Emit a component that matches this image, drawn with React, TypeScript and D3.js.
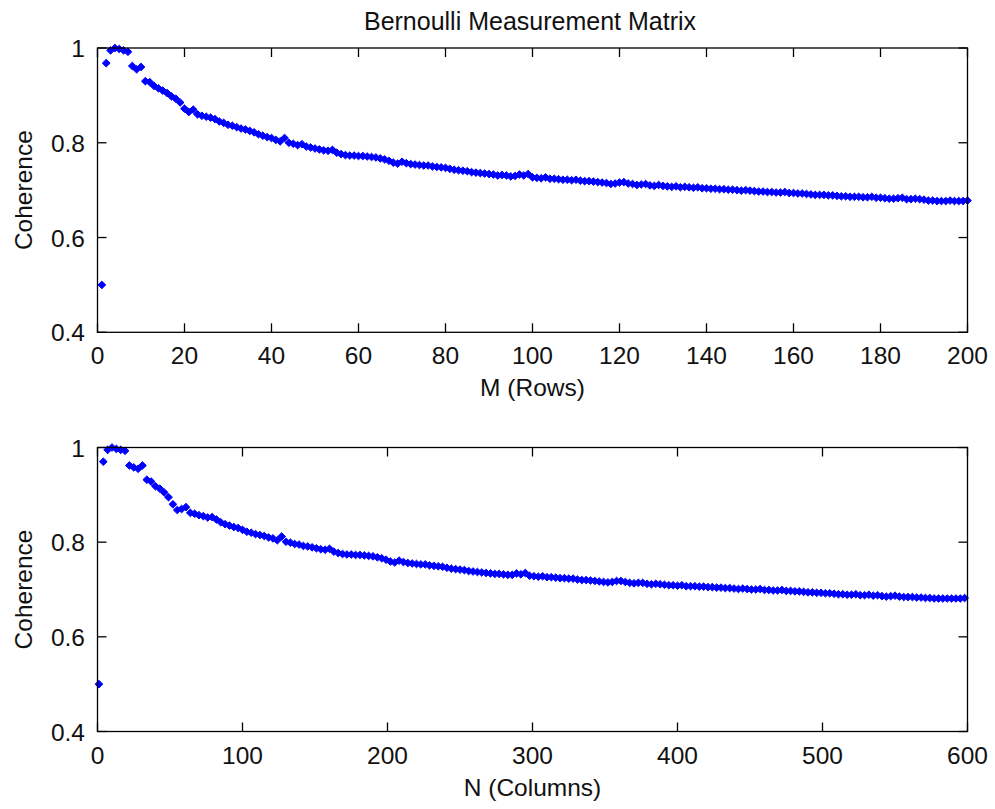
import React from "react";
import * as d3 from "d3";

const titleText = "Bernoulli Measurement Matrix";
const yLabel = "Coherence";
const topXLabel = "M (Rows)";
const bottomXLabel = "N (Columns)";
const topXTicks = [0, 20, 40, 60, 80, 100, 120, 140, 160, 180, 200];
const bottomXTicks = [0, 100, 200, 300, 400, 500, 600];
const yTicks = [0.4, 0.6, 0.8, 1];
const yTickLabels = ["0.4", "0.6", "0.8", "1"];

// M = 1..200
const topCoherence = [
  0.500, 0.968, 0.995, 1.000, 0.998, 0.995, 0.992, 0.962, 0.955, 0.960,
  0.930, 0.928, 0.920, 0.915, 0.910, 0.905, 0.898, 0.893, 0.885, 0.872,
  0.865, 0.870, 0.860, 0.857, 0.855, 0.853, 0.850, 0.845, 0.842, 0.838,
  0.836, 0.833, 0.830, 0.828, 0.825, 0.822, 0.818, 0.815, 0.812, 0.810,
  0.806, 0.803, 0.810, 0.800, 0.798, 0.795, 0.797, 0.792, 0.790, 0.788,
  0.786, 0.784, 0.783, 0.785, 0.779, 0.776, 0.774, 0.773, 0.773, 0.772,
  0.772, 0.771, 0.770, 0.769, 0.767, 0.765, 0.762, 0.758, 0.756, 0.760,
  0.757, 0.755, 0.754, 0.753, 0.752, 0.752, 0.750, 0.749, 0.748, 0.747,
  0.745, 0.743, 0.742, 0.741, 0.740, 0.738, 0.737, 0.736, 0.735, 0.734,
  0.733, 0.731, 0.732, 0.731, 0.729, 0.730, 0.733, 0.731, 0.734, 0.727,
  0.726, 0.725, 0.727, 0.724, 0.724, 0.723, 0.722, 0.722, 0.721, 0.722,
  0.720, 0.719, 0.719, 0.718, 0.717, 0.716, 0.715, 0.713, 0.714, 0.716,
  0.717, 0.714, 0.713, 0.711, 0.712, 0.713, 0.710, 0.709, 0.711, 0.709,
  0.708, 0.707, 0.708, 0.706, 0.707, 0.706, 0.705, 0.706, 0.704, 0.704,
  0.703, 0.703, 0.702, 0.702, 0.701, 0.701, 0.700, 0.699, 0.700, 0.699,
  0.698, 0.697, 0.697, 0.696, 0.696, 0.695, 0.695, 0.696, 0.694, 0.694,
  0.693, 0.693, 0.692, 0.691, 0.690, 0.690, 0.690, 0.689, 0.689, 0.688,
  0.687, 0.687, 0.686, 0.686, 0.686, 0.685, 0.685, 0.686, 0.684, 0.684,
  0.683, 0.682, 0.682, 0.683, 0.684, 0.681, 0.681, 0.682, 0.681, 0.680,
  0.678, 0.678, 0.677, 0.677, 0.677, 0.678, 0.677, 0.677, 0.677, 0.678,
];

// N = 1, 4, 7, ..., 598
const bottomCoherence = [
  0.500, 0.970, 0.995, 1.000, 0.997, 0.995, 0.993, 0.962, 0.958, 0.955,
  0.962, 0.932, 0.928, 0.918, 0.913, 0.905, 0.895, 0.880, 0.868, 0.870,
  0.874, 0.862, 0.860, 0.857, 0.855, 0.852, 0.853, 0.848, 0.842, 0.838,
  0.835, 0.832, 0.830, 0.826, 0.822, 0.820, 0.817, 0.815, 0.813, 0.810,
  0.808, 0.804, 0.812, 0.801, 0.799, 0.796, 0.795, 0.792, 0.791, 0.789,
  0.787, 0.785, 0.784, 0.786, 0.780, 0.777, 0.775, 0.774, 0.774, 0.773,
  0.773, 0.772, 0.771, 0.770, 0.768, 0.766, 0.763, 0.759, 0.757, 0.761,
  0.758, 0.756, 0.755, 0.754, 0.753, 0.753, 0.751, 0.750, 0.749, 0.748,
  0.746, 0.744, 0.743, 0.742, 0.741, 0.739, 0.738, 0.737, 0.736, 0.735,
  0.734, 0.733, 0.733, 0.732, 0.731, 0.731, 0.734, 0.732, 0.735, 0.729,
  0.728, 0.727, 0.728, 0.726, 0.726, 0.725, 0.724, 0.724, 0.723, 0.723,
  0.721, 0.720, 0.720, 0.719, 0.718, 0.717, 0.716, 0.715, 0.716, 0.718,
  0.718, 0.716, 0.714, 0.713, 0.714, 0.714, 0.712, 0.711, 0.712, 0.711,
  0.710, 0.709, 0.709, 0.708, 0.709, 0.707, 0.707, 0.707, 0.706, 0.706,
  0.705, 0.705, 0.704, 0.704, 0.703, 0.703, 0.702, 0.701, 0.702, 0.701,
  0.700, 0.700, 0.701, 0.699, 0.699, 0.698, 0.698, 0.699, 0.697, 0.697,
  0.696, 0.696, 0.695, 0.694, 0.694, 0.693, 0.693, 0.692, 0.692, 0.691,
  0.690, 0.690, 0.689, 0.689, 0.690, 0.688, 0.688, 0.689, 0.687, 0.688,
  0.686, 0.685, 0.686, 0.687, 0.685, 0.684, 0.684, 0.684, 0.683, 0.683,
  0.682, 0.682, 0.681, 0.681, 0.681, 0.681, 0.681, 0.681, 0.681, 0.682,
];

const topX = topCoherence.map((_, i) => i + 1);
const bottomX = bottomCoherence.map((_, i) => 3 * i + 1);

const FONT = "'Liberation Sans', Arial, Helvetica, sans-serif";
const BLUE = "#0000ff";
const diamond = "M0,-3.8L3.9,0L0,3.8L-3.9,0Z";

type PanelProps = {
  top: number;
  bottom: number;
  xs: number[];
  ys: number[];
  xMax: number;
  xTicks: number[];
  xLabel: string;
};

const LEFT = 97.5;
const RIGHT = 967.5;
const TICK = 9;

function Panel({ top, bottom, xs, ys, xMax, xTicks, xLabel }: PanelProps) {
  const x = d3.scaleLinear().domain([0, xMax]).range([LEFT, RIGHT]);
  const y = d3.scaleLinear().domain([0.4, 1]).range([bottom, top]);
  const midY = (top + bottom) / 2;
  return (
    <g>
      {xs.map((xv, i) => (
        <path key={i} d={diamond} transform={`translate(${x(xv)},${y(ys[i])})`} fill={BLUE} stroke={BLUE} strokeWidth={1} strokeLinejoin="round" />
      ))}
      <rect x={LEFT} y={top} width={RIGHT - LEFT} height={bottom - top} fill="none" stroke="#000" strokeWidth={1.3} />
      {xTicks.map((t) => (
        <g key={"x" + t}>
          <line x1={x(t)} x2={x(t)} y1={bottom} y2={bottom - TICK} stroke="#000" strokeWidth={1.3} />
          <line x1={x(t)} x2={x(t)} y1={top} y2={top + TICK} stroke="#000" strokeWidth={1.3} />
          <text x={x(t)} y={bottom + 32} textAnchor="middle" fontFamily={FONT} fontSize={24.5} fill="#111">
            {t}
          </text>
        </g>
      ))}
      {yTicks.map((t, i) => (
        <g key={"y" + t}>
          <line x1={LEFT} x2={LEFT + TICK} y1={y(t)} y2={y(t)} stroke="#000" strokeWidth={1.3} />
          <line x1={RIGHT} x2={RIGHT - TICK} y1={y(t)} y2={y(t)} stroke="#000" strokeWidth={1.3} />
          <text x={85} y={y(t) + 9} textAnchor="end" fontFamily={FONT} fontSize={24.5} fill="#111">
            {yTickLabels[i]}
          </text>
        </g>
      ))}
      <text x={(LEFT + RIGHT) / 2} y={bottom + 64} textAnchor="middle" fontFamily={FONT} fontSize={24.5} fill="#111">
        {xLabel}
      </text>
      <text transform={`translate(32,${midY}) rotate(-90)`} textAnchor="middle" fontFamily={FONT} fontSize={24.5} fill="#111">
        {yLabel}
      </text>
    </g>
  );
}

export default function App() {
  return (
    <svg width={995} height={809} style={{ position: "absolute", left: 0, top: 0, background: "#fff" }}>
      <rect width={995} height={809} fill="#fff" />
      <text x={530} y={30} textAnchor="middle" fontFamily={FONT} fontSize={25} fill="#111">
        {titleText}
      </text>
      <Panel top={48} bottom={332.3} xs={topX} ys={topCoherence} xMax={200} xTicks={topXTicks} xLabel={topXLabel} />
      <Panel top={447.5} bottom={731.5} xs={bottomX} ys={bottomCoherence} xMax={600} xTicks={bottomXTicks} xLabel={bottomXLabel} />
    </svg>
  );
}
